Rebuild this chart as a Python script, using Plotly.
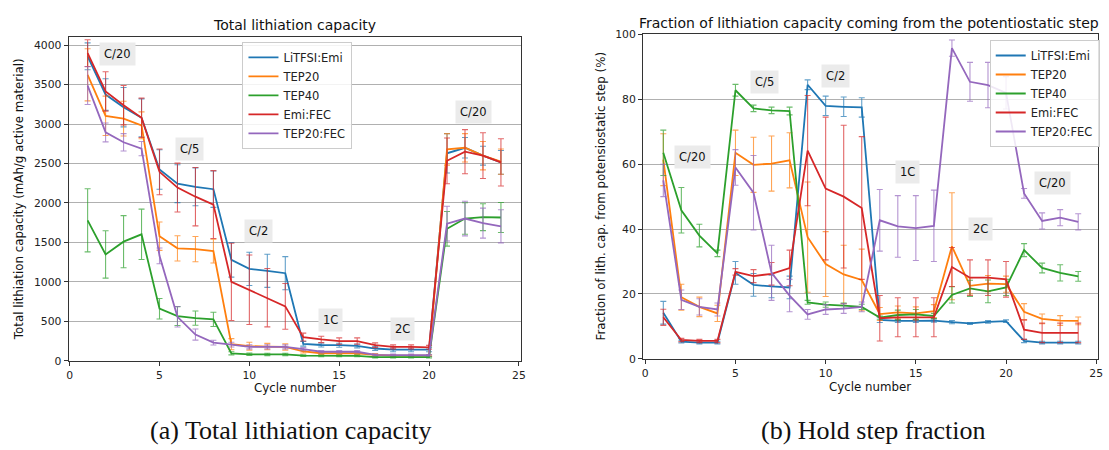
import plotly.graph_objects as go

cycles = list(range(1, 25))
series_names = ["LiTFSI:Emi", "TEP20", "TEP40", "Emi:FEC", "TEP20:FEC"]
colors = ["#1f77b4", "#ff7f0e", "#2ca02c", "#d62728", "#9467bd"]

# Total lithiation capacity (mAh/g active material)
cap_litfsi = [3860, 3375, 3215, 3080, 2425, 2245, 2205, 2175, 1280, 1165, 1140, 1110,
              215, 200, 197, 188, 155, 140, 140, 140, 2630, 2700, 2600, 2515]
cap_tep20 = [3625, 3105, 3070, 2985, 1580, 1425, 1415, 1390, 210, 185, 180, 175,
             118, 95, 95, 95, 75, 65, 65, 65, 2680, 2700, 2600, 2525]
cap_tep40 = [1780, 1348, 1510, 1603, 660, 566, 540, 524, 94, 82, 80, 80,
             65, 62, 62, 62, 45, 45, 45, 45, 1673, 1803, 1820, 1816]
cap_emifec = [3900, 3415, 3240, 3080, 2395, 2195, 2080, 1980, 1000, 900, 800, 690,
              300, 270, 250, 250, 197, 176, 176, 170, 2535, 2650, 2600, 2515]
cap_tep20fec = [3488, 2895, 2770, 2690, 1330, 557, 332, 229, 205, 176, 176, 176,
                147, 114, 114, 114, 74, 74, 74, 70, 1738, 1803, 1745, 1705]

cap_litfsi_err = [170, 200, 250, 240, 250, 240, 240, 230, 220, 210, 210, 210,
                  30, 25, 25, 25, 25, 25, 25, 25, 250, 130, 120, 150]
cap_tep20_err = [330, 250, 220, 170, 180, 160, 160, 150, 70, 50, 40, 40,
                 20, 15, 15, 15, 15, 10, 10, 10, 200, 180, 180, 160]
cap_tep40_err = [400, 300, 330, 320, 130, 120, 90, 90, 20, 15, 15, 15,
                 10, 10, 10, 10, 8, 8, 8, 8, 220, 200, 170, 190]
cap_emifec_err = [170, 250, 250, 250, 290, 310, 370, 430, 490, 440, 370, 290,
                  50, 40, 40, 40, 30, 25, 25, 25, 290, 280, 290, 300]
cap_tep20fec_err = [240, 120, 110, 90, 100, 130, 70, 30, 30, 25, 25, 25,
                    20, 15, 15, 15, 10, 10, 10, 10, 220, 220, 190, 210]

# Fraction of lithiation capacity from the potentiostatic step (%)
frac_litfsi = [14.2, 5.3, 5.0, 5.0, 26.5, 22.8, 22.3, 22.0, 84.5, 78.0, 77.7, 77.5,
               12.0, 11.7, 11.7, 11.8, 11.3, 10.9, 11.4, 11.6, 5.5, 5.0, 5.0, 5.0]
frac_tep20 = [61.4, 19.0, 16.0, 14.0, 63.5, 59.8, 60.2, 61.2, 37.5, 29.2, 26.0, 24.3,
              13.8, 14.3, 14.0, 14.7, 34.7, 22.5, 23.2, 23.0, 14.5, 12.3, 11.8, 11.7]
frac_tep40 = [63.5, 45.8, 38.0, 32.5, 82.8, 77.2, 76.6, 76.4, 17.4, 16.7, 16.4, 16.0,
              12.7, 13.5, 13.7, 13.2, 19.7, 21.7, 20.8, 22.0, 33.5, 28.0, 26.5, 25.4]
frac_emifec = [12.8, 5.8, 5.5, 5.5, 26.8, 25.5, 26.2, 28.0, 64.2, 52.5, 50.0, 46.5,
               12.5, 12.8, 12.8, 12.8, 28.3, 25.0, 25.0, 24.5, 9.0, 8.0, 8.0, 8.0]
frac_tep20fec = [55.0, 18.2, 16.0, 15.2, 59.0, 51.2, 26.5, 19.5, 13.7, 15.2, 15.5, 16.0,
                 42.7, 40.8, 40.3, 41.0, 95.8, 85.4, 84.4, 82.0, 51.0, 42.5, 43.5, 42.2]

frac_litfsi_err = [3.5, 0.4, 0.4, 0.4, 3.5, 3.5, 3.5, 3.5, 1.5, 3, 3, 3,
                   0.8, 0.5, 0.5, 0.5, 0.5, 0.3, 0.4, 0.4, 0.5, 0.4, 0.4, 0.4]
frac_tep20_err = [8, 4, 3, 2.5, 7, 8.5, 8.5, 8.5, 17, 10, 9, 9.5,
                  2, 2, 2, 2, 16.5, 2.5, 2.5, 2.5, 2.5, 1.5, 1.5, 1.2]
frac_tep40_err = [7, 7, 3.5, 1, 1.8, 1, 1, 1.2, 0.6, 0.8, 0.8, 0.8,
                  0.5, 1.5, 1.5, 0.8, 2.5, 2.5, 3.5, 2.5, 2, 1.5, 2.5, 1.5]
frac_emifec_err = [2.5, 0.5, 0.5, 0.5, 1, 2, 3.5, 5.5, 17, 22, 22, 22,
                   7, 6, 6, 6, 6, 5.5, 5.5, 5.5, 3, 3, 3, 3]
frac_tep20fec_err = [5, 3, 2.5, 2, 5.5, 11.5, 8.5, 5, 1.5, 1.5, 1.5, 1.5,
                     9.5, 9.5, 10, 11, 2.5, 6, 7, 5, 1.5, 2.5, 2.5, 2.5]

cap_series = [cap_litfsi, cap_tep20, cap_tep40, cap_emifec, cap_tep20fec]
cap_errors = [cap_litfsi_err, cap_tep20_err, cap_tep40_err, cap_emifec_err, cap_tep20fec_err]
frac_series = [frac_litfsi, frac_tep20, frac_tep40, frac_emifec, frac_tep20fec]
frac_errors = [frac_litfsi_err, frac_tep20_err, frac_tep40_err, frac_emifec_err, frac_tep20fec_err]

# Rate labels: (text, cycle position, value position)
cap_rate_labels = [("C/20", 2.65, 3890), ("C/5", 6.65, 2680), ("C/2", 10.5, 1640),
                   ("1C", 14.5, 520), ("2C", 18.55, 405), ("C/20", 22.45, 3155)]
frac_rate_labels = [("C/20", 2.6, 62.2), ("C/5", 6.6, 85.2), ("C/2", 10.55, 87.3),
                    ("1C", 14.55, 57.5), ("2C", 18.6, 40.0), ("C/20", 22.6, 54.2)]


def rgba(hex_color, alpha):
    h = hex_color.lstrip("#")
    r, g, b = int(h[0:2], 16), int(h[2:4], 16), int(h[4:6], 16)
    return f"rgba({r},{g},{b},{alpha})"


fig = go.Figure()

for name, color, ys, errs in zip(series_names, colors, cap_series, cap_errors):
    fig.add_trace(go.Scatter(
        x=cycles, y=ys, name=name, mode="lines",
        line=dict(color=color, width=1.8),
        error_y=dict(type="data", array=errs, visible=True, thickness=1.1,
                     width=3, color=rgba(color, 0.7)),
        xaxis="x", yaxis="y", legend="legend"))

for name, color, ys, errs in zip(series_names, colors, frac_series, frac_errors):
    fig.add_trace(go.Scatter(
        x=cycles, y=ys, name=name, mode="lines",
        line=dict(color=color, width=1.8),
        error_y=dict(type="data", array=errs, visible=True, thickness=1.1,
                     width=3, color=rgba(color, 0.7)),
        xaxis="x2", yaxis="y2", legend="legend2"))

W, H = 1109, 450
font_main = "DejaVu Sans"
tick_font = dict(family=font_main, size=10.8, color="#222")
legend_font = dict(family=font_main, size=11.5, color="#222")

axis_common = dict(showline=True, linecolor="#333", linewidth=1, mirror=True,
                   ticks="outside", ticklen=4, tickcolor="#333", tickfont=tick_font,
                   zeroline=False)

fig.update_layout(
    width=W, height=H,
    margin=dict(l=0, r=0, t=0, b=0),
    paper_bgcolor="white", plot_bgcolor="white",
    showlegend=True,
    xaxis=dict(domain=[67 / W, 522 / W], range=[-0.06, 25.1], tickvals=[0, 5, 10, 15, 20, 25],
               showgrid=False, anchor="y", **axis_common),
    yaxis=dict(domain=[(H - 365.3) / H, (H - 32.3) / H], range=[0, 4100],
               tickvals=list(range(0, 4001, 500)), showgrid=True, gridcolor="#b0b0b0",
               gridwidth=1, anchor="x", **axis_common),
    xaxis2=dict(domain=[645 / W, 1103 / W], range=[-0.13, 25.1], tickvals=[0, 5, 10, 15, 20, 25],
                showgrid=False, anchor="y2", **axis_common),
    yaxis2=dict(domain=[(H - 363.3) / H, (H - 29.3) / H], range=[0, 100],
                tickvals=[0, 20, 40, 60, 80, 100], showgrid=True, gridcolor="#b0b0b0",
                gridwidth=1, anchor="x2", **axis_common),
    legend=dict(x=242 / W, y=(H - 37) / H, xanchor="left", yanchor="top",
                bgcolor="rgba(255,255,255,0.85)", bordercolor="#cccccc", borderwidth=1,
                font=legend_font, itemwidth=30, tracegroupgap=0),
    legend2=dict(x=994 / W, y=(H - 35) / H, xanchor="left", yanchor="top",
                 bgcolor="rgba(255,255,255,0.85)", bordercolor="#cccccc", borderwidth=1,
                 font=legend_font, itemwidth=30, tracegroupgap=0),
)

annotations = []
for text, cx, cy in cap_rate_labels:
    annotations.append(dict(x=cx, y=cy, xref="x", yref="y", text=text, showarrow=False,
                            bgcolor="#ebebeb", borderpad=4,
                            font=dict(family=font_main, size=11.5, color="#111")))
for text, cx, cy in frac_rate_labels:
    annotations.append(dict(x=cx, y=cy, xref="x2", yref="y2", text=text, showarrow=False,
                            bgcolor="#ebebeb", borderpad=4,
                            font=dict(family=font_main, size=11.5, color="#111")))

# Titles, axis titles and sub-captions
text_items = [
    ("Total lithiation capacity", 294.5, 20, 14, 0, font_main),
    ("Fraction of lithiation capacity coming from the potentiostatic step", 873, 18, 14, 0, font_main),
    ("Cycle number", 295, 393, 11.8, 0, font_main),
    ("Cycle number", 874, 392, 11.8, 0, font_main),
    ("Total lithiation capacity (mAh/g active material)", 17, 199, 11.8, -90, font_main),
    ("Fraction of lith. cap. from potensiostatic step (%)", 603, 196, 11.8, -90, font_main),
    ("(a) Total lithiation capacity", 290, 437, 26, 0, "Liberation Serif"),
    ("(b) Hold step fraction", 877, 437, 26, 0, "Liberation Serif"),
]
for text, px, py, size, angle, fam in text_items:
    annotations.append(dict(x=px / W, y=(H - py) / H, xref="paper", yref="paper",
                            text=text, showarrow=False, textangle=angle,
                            xanchor="center", yanchor="middle",
                            font=dict(family=fam, size=size, color="#111")))

fig.update_layout(annotations=annotations)

fig.write_html("out.html")
